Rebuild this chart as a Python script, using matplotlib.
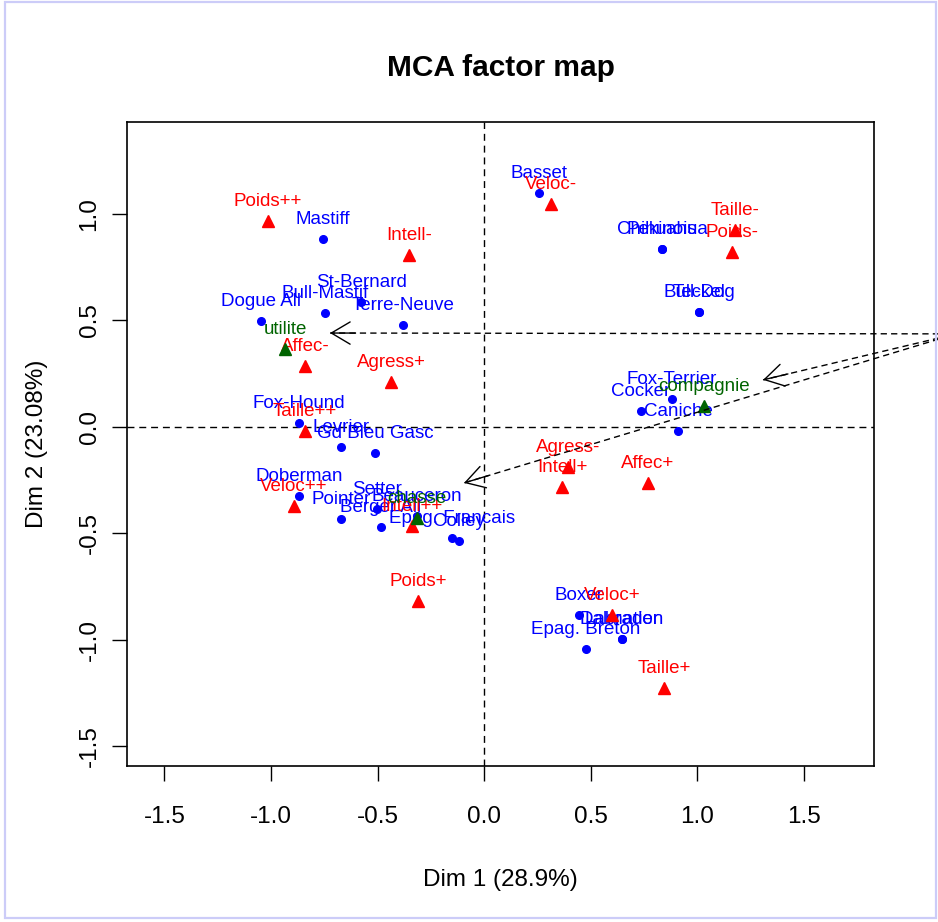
import matplotlib
matplotlib.use('Agg')
import matplotlib.pyplot as plt
from matplotlib.patches import Rectangle
import numpy as np

plt.rcParams['font.family'] = ['Liberation Sans', 'DejaVu Sans']
plt.rcParams['axes.unicode_minus'] = False

# ── individus (races) ──────────────────────────────────────────
ind_names = ['Basset', 'Mastiff', 'Chihuahua', 'Pekinois', 'Bull-Dog', 'Teckel',
             'St-Bernard', 'Bull-Mastif', 'Terre-Neuve', 'Dogue All',
             'Fox-Terrier', 'Cocker', 'Caniche', 'Fox-Hound', 'Levrier',
             'Gd Bleu Gasc', 'Doberman', 'Pointer', 'Setter', 'Beauceron',
             'Berger All', 'Colley', 'Epag. Francais', 'Boxer', 'Dalmatien',
             'Labrador', 'Epag. Breton']
ind_x = [0.258, -0.756, 0.836, 0.836, 1.009, 1.009,
         -0.577, -0.746, -0.380, -1.047,
         0.883, 0.737, 0.911, -0.869, -0.671,
         -0.512, -0.869, -0.671, -0.502, -0.315,
         -0.484, -0.117, -0.150, 0.446, 0.648,
         0.648, 0.479]
ind_y = [1.099, 0.883, 0.836, 0.836, 0.540, 0.540,
         0.587, 0.535, 0.479, 0.498,
         0.131, 0.075, -0.019, 0.019, -0.094,
         -0.122, -0.324, -0.432, -0.385, -0.418,
         -0.469, -0.535, -0.521, -0.883, -0.995,
         -0.995, -1.042]

# ── modalites actives ──────────────────────────────────────────
cat_names = ['Poids++', 'Intell-', 'Veloc-', 'Taille-', 'Poids-', 'Affec-',
             'Agress+', 'Taille++', 'Veloc++', 'Intell++', 'Poids+',
             'Agress-', 'Intell+', 'Affec+', 'Veloc+', 'Taille+']
cat_x = [-1.014, -0.352, 0.315, 1.178, 1.164, -0.840,
         -0.437, -0.840, -0.892, -0.338, -0.310,
         0.394, 0.366, 0.770, 0.601, 0.845]
cat_y = [0.967, 0.808, 1.047, 0.925, 0.822, 0.286,
         0.211, -0.019, -0.371, -0.465, -0.817,
         -0.188, -0.282, -0.263, -0.883, -1.225]

# ── modalites supplementaires ──────────────────────────────────
sup_names = ['utilite', 'compagnie', 'chasse']
sup_x = [-0.934, 1.033, -0.315]
sup_y = [0.366, 0.099, -0.427]

# ── fleches (origine hors du cadre) ────────────────────────────
arrow_origin = (2.216, 0.437)
arrow_tip_x = [-0.723, 1.310, -0.094]
arrow_tip_y = [0.441, 0.221, -0.263]

fig = plt.figure(figsize=(9.38, 9.22), dpi=100)
ax = fig.add_axes([0.1354, 0.1692, 0.7964, 0.6985])
ax.set_xlim(-1.676, 1.831)
ax.set_ylim(-1.592, 1.432)

ax.axhline(0, color='black', lw=1, ls=(0, (5, 3.5)), zorder=1)
ax.axvline(0, color='black', lw=1, ls=(0, (5, 3.5)), zorder=1)

LAB_OFF = 14
FS = 13.5

def draw_group(xs, ys, names, color, marker, ms, z):
    ax.plot(xs, ys, ls='none', marker=marker, ms=ms, color=color, zorder=z)
    for n, x, y in zip(names, xs, ys):
        ax.annotate(n, (x, y), xytext=(0, LAB_OFF), textcoords='offset points',
                    ha='center', va='center', color=color, fontsize=FS, zorder=z)

draw_group(ind_x, ind_y, ind_names, '#0000ff', 'o', 5.5, 3)
draw_group(cat_x, cat_y, cat_names, '#ff0000', '^', 8.5, 4)
draw_group(sup_x, sup_y, sup_names, '#006400', '^', 8.5, 5)

# fleches: tige en pointilles + tete ouverte
for tx, ty in zip(arrow_tip_x, arrow_tip_y):
    ax.plot([arrow_origin[0], tx], [arrow_origin[1], ty], color='black', lw=1,
            ls=(0, (4.5, 3)), clip_on=False, zorder=6)
    dx, dy = arrow_origin[0] - tx, arrow_origin[1] - ty
    d = np.hypot(dx, dy)
    ax.annotate('', xy=(tx, ty), xytext=(tx + 0.12 * dx / d, ty + 0.12 * dy / d),
                arrowprops=dict(arrowstyle='->,head_length=1.35,head_width=0.8',
                                lw=1, color='black', mutation_scale=10,
                                shrinkA=0, shrinkB=0),
                annotation_clip=False, zorder=6)

xt = [-1.5, -1.0, -0.5, 0.0, 0.5, 1.0, 1.5]
yt = [-1.5, -1.0, -0.5, 0.0, 0.5, 1.0]
ax.set_xticks(xt)
ax.set_xticklabels([f'{v:.1f}' for v in xt])
ax.set_yticks(yt)
ax.set_yticklabels([f'{v:.1f}' for v in yt], rotation=90, va='center')
ax.tick_params(direction='out', length=11, width=1, labelsize=17.5, pad=18)
ax.tick_params(axis='y', pad=8)
for s in ax.spines.values():
    s.set_linewidth(1.2)

ax.set_xlabel('Dim 1 (28.9%)', fontsize=17.5, labelpad=29)
ax.set_ylabel('Dim 2 (23.08%)', fontsize=17.5, labelpad=22)
ax.set_title('MCA factor map', fontsize=21.5, fontweight='bold', pad=33)

fig.patches.append(Rectangle((4.5 / 938, 4 / 922), 931 / 938, 916 / 922,
                             transform=fig.transFigure, fill=False,
                             edgecolor='#ccccf8', lw=1.6, zorder=0))

fig.savefig('out.png', dpi=100)
